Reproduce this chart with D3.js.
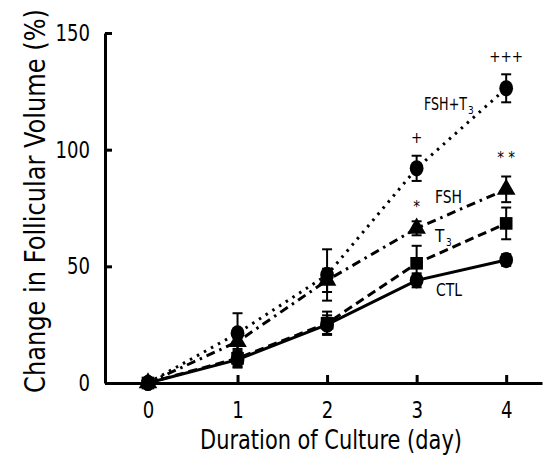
<!DOCTYPE html>
<html lang="en">
<head>
<meta charset="UTF-8">
<script src="https://d3js.org/d3.v7.min.js"></script>
<style>
  body { margin: 0; background: #fff; }
  text { font-family: 'DejaVu Sans Condensed', 'Liberation Sans Narrow', 'DejaVu Sans', sans-serif; font-stretch: condensed; fill: #000; }
</style>
</head>
<body>
<div id="chart"></div>
<script>
const width = 543, height = 456;

// data (days 0..4, % change)
const days = [0, 1, 2, 3, 4];
const ctl = [0, 10, 25, 44, 52.7];
const ctlErr = [0, 3, 4, 3, 2.5];
const t3 = [0, 10.6, 25.6, 51.3, 68.4];
const t3Err = [0, 4, 5, 7.5, 6.8];
const fsh = [0, 17.7, 44, 66.3, 83];
const fshErr = [0, 4, 5, 3, 5.5];
const fshT3 = [0, 21.3, 46.3, 92, 126.3];
const fshT3Err = [0, 8.6, 11, 5.4, 6];
const yTicks = [0, 50, 100, 150];

const svg = d3.select('#chart').append('svg')
  .attr('width', width).attr('height', height);

// narrow a text horizontally so it spans `len` px (no condensed font installed)
function squeeze(t, tx, ty, len, rot) {
  const w = t.node().getComputedTextLength();
  const k = Math.min(1, len / w);
  t.attr('x', 0).attr('y', 0)
    .attr('transform', `translate(${tx},${ty})` + (rot ? ` rotate(${rot})` : '') + ` scale(${k},1)`);
  return t;
}

const x = d3.scaleLinear().domain([-0.48, 4.4]).range([105, 542]);
const y = d3.scaleLinear().domain([0, 150]).range([383, 33]);

// axes
const yAxis = svg.append('g')
  .attr('transform', 'translate(105,0)')
  .call(d3.axisLeft(y).tickValues(yTicks).tickFormat(d3.format('d')).tickSizeInner(-7).tickSizeOuter(0).tickPadding(15));
const xAxis = svg.append('g')
  .attr('transform', 'translate(0,383)')
  .call(d3.axisBottom(x).tickValues(days).tickFormat(d3.format('d')).tickSizeInner(-8).tickSizeOuter(0).tickPadding(19));

[yAxis, xAxis].forEach(g => {
  g.select('.domain').attr('stroke', '#000').attr('stroke-width', 3);
  g.selectAll('.tick line').attr('stroke', '#000').attr('stroke-width', 3);
  g.selectAll('.tick text').style('font-size', '23px').attr('fill', '#000')
    .attr('textLength', d => String(d).length * 11.5).attr('lengthAdjust', 'spacingAndGlyphs');
});

// axis titles
squeeze(svg.append('text')
  .attr('text-anchor', 'middle')
  .style('font-size', '28px')
  .text('Change in Follicular Volume (%)'), 45, 201, 384, -90);

squeeze(svg.append('text')
  .attr('text-anchor', 'middle')
  .style('font-size', '27px')
  .text('Duration of Culture (day)'), 331, 449, 262);

const series = [
  { name: 'FSH+T3', vals: fshT3, err: fshT3Err, dash: '2.5,5.5', shape: 'circle' },
  { name: 'FSH', vals: fsh, err: fshErr, dash: '9,5,2.5,5', shape: 'triangle' },
  { name: 'CTL', vals: ctl, err: ctlErr, dash: null, shape: 'circle' },
  { name: 'T3', vals: t3, err: t3Err, dash: '9,5', shape: 'square' }
];

const line = d3.line()
  .x((d, i) => x(days[i]))
  .y(d => y(d));

series.forEach(s => {
  const g = svg.append('g');
  g.append('path')
    .datum(s.vals)
    .attr('fill', 'none')
    .attr('stroke', '#000')
    .attr('stroke-width', 3)
    .attr('stroke-dasharray', s.dash)
    .attr('d', line);

  // error bars
  const eb = g.selectAll('.eb').data(days.filter(d => s.err[d] > 0)).enter().append('g');
  eb.append('line')
    .attr('x1', d => x(d)).attr('x2', d => x(d))
    .attr('y1', d => y(s.vals[d] + s.err[d])).attr('y2', d => y(s.vals[d] - s.err[d]))
    .attr('stroke', '#000').attr('stroke-width', 2);
  [1, -1].forEach(sg => {
    eb.append('line')
      .attr('x1', d => x(d) - 5).attr('x2', d => x(d) + 5)
      .attr('y1', d => y(s.vals[d] + sg * s.err[d])).attr('y2', d => y(s.vals[d] + sg * s.err[d]))
      .attr('stroke', '#000').attr('stroke-width', 2);
  });

  // markers
  const sym = s.shape === 'circle' ? d3.symbolCircle : s.shape === 'square' ? d3.symbolSquare : d3.symbolTriangle;
  const size = s.shape === 'circle' ? 165 : s.shape === 'square' ? 160 : 150;
  g.selectAll('.m').data(days).enter().append('path')
    .attr('transform', d => `translate(${x(d)},${y(s.vals[d])})` + (s.shape === 'circle' ? ' scale(0.95,1.12)' : ''))
    .attr('d', d3.symbol().type(sym).size(size))
    .attr('fill', '#000');
});

// series labels
const lab = (tx, ty, main, sub, len) => {
  squeeze(svg.append('text').style('font-size', '17px').text(main), tx, ty, len);
  if (sub) svg.append('text').attr('x', tx + len + 1).attr('y', ty + 4).style('font-size', '10px').text(sub);
};
lab(424, 110, 'FSH+T', '3', 43);
lab(435, 203, 'FSH', null, 27);
lab(435, 242, 'T', '3', 10);
lab(436, 296, 'CTL', null, 26);

// significance marks
const marks = [
  { day: 3, v: 92, txt: '+', off: 25 },
  { day: 4, v: 126.3, txt: '+++', off: 26 },
  { day: 3, v: 66.3, txt: '*', off: 16 },
  { day: 4, v: 83, txt: '* *', off: 26 }
];
marks.forEach(m => {
  svg.append('text')
    .attr('x', x(m.day)).attr('y', y(m.v) - m.off)
    .attr('text-anchor', 'middle')
    .style('font-size', '15px')
    .text(m.txt);
});
</script>
</body>
</html>
